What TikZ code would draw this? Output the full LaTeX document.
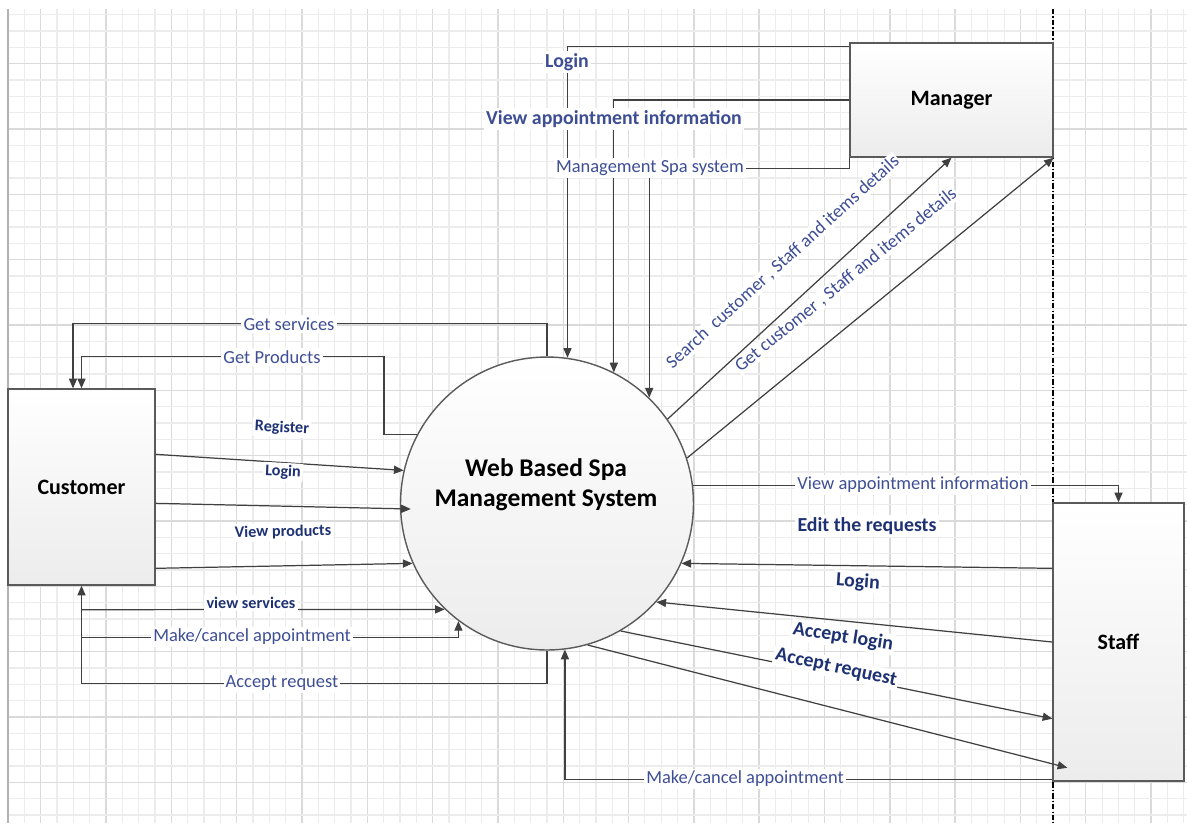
\documentclass[tikz,border=0pt]{standalone}
\usepackage{fontspec}
\setmainfont{Carlito}
\usetikzlibrary{arrows.meta,calc}
\definecolor{mblue}{RGB}{62,78,148}
\definecolor{dblue}{RGB}{30,50,115}
\definecolor{linec}{RGB}{64,64,64}
\definecolor{boxc}{RGB}{90,90,90}
\definecolor{boxbot}{RGB}{236,236,236}
\definecolor{gmin}{RGB}{236,236,236}
\definecolor{gmaj}{RGB}{218,218,218}
\begin{document}
\begin{tikzpicture}[x=0.02cm,y=-0.02cm,
 ent/.style={draw=boxc, line width=0.8pt, top color=white, bottom color=boxbot, font=\bfseries\fontsize{12.5}{15}\selectfont, inner sep=0pt},
 conn/.style={draw=linec, line width=0.7pt, -{Triangle[length=5.5pt,width=4.6pt]}},
 lm/.style={fill=white, inner sep=1.2pt, text=mblue, font=\fontsize{10.5}{12}\selectfont},
 lb/.style={fill=white, inner sep=1.2pt, text=mblue, font=\bfseries\fontsize{11.3}{13}\selectfont},
 ld/.style={fill=white, inner sep=1.2pt, text=dblue, font=\bfseries\fontsize{11.3}{13}\selectfont},
 ls/.style={fill=white, inner sep=1.2pt, text=dblue, font=\bfseries\fontsize{9.2}{11}\selectfont},
 gridmin/.style={draw=gmin, line width=0.7pt},
 gridmaj/.style={draw=gmaj, line width=0.8pt},
]
\useasboundingbox (0,0) rectangle (1187,823);
\fill[white] (0,0) rectangle (1187,823);
% grid
\foreach \i in {0,...,72}{
  \pgfmathsetmacro{\gx}{8+\i*16.33}
  \pgfmathtruncatemacro{\m}{mod(\i,4)}
  \ifnum\m=2 \draw[gridmaj] (\gx,9) -- (\gx,823); \else \draw[gridmin] (\gx,9) -- (\gx,823); \fi
}
\foreach \j in {0,...,49}{
  \pgfmathsetmacro{\gy}{14.7+\j*16.33}
  \pgfmathtruncatemacro{\m}{mod(\j,4)}
  \ifnum\m=3 \draw[gridmaj] (8,\gy) -- (1187,\gy); \else \draw[gridmin] (8,\gy) -- (1187,\gy); \fi
}
\draw[draw=gray!60, line width=0.9pt] (8,9) -- (8,823);
% boundary
\draw[black, line width=0.6pt, dash pattern=on 3pt off 1.2pt on 0.8pt off 1.2pt] (1053,9) -- (1053,823);

% entities
\node[ent, minimum width=4.06cm, minimum height=2.28cm] (mgr) at (951.5,100) {Manager};
\node[ent, minimum width=2.94cm, minimum height=3.92cm] (cust) at (81.5,487) {Customer};
\node[ent, minimum width=2.62cm, minimum height=5.56cm] (staff) at (1118.5,642) {Staff};
\node[circle, draw=boxc, line width=0.8pt, top color=white, bottom color=boxbot, minimum size=5.86cm, inner sep=0pt] (sys) at (547,503.5) {};
\node[font=\bfseries\fontsize{14.5}{17}\selectfont, align=center] (systxt) at (546,485) {Web Based Spa\\Management System};

% manager flows
\draw[conn] ($(mgr.north west)+(0,4)$) -| (sys.82.2);
\draw[conn] (mgr.west) -| (sys.63.2);
\draw[conn] (mgr.south west) -- ++(0,11) -| (sys.46.4);
\draw[conn] (sys.35.2) -- (mgr.south);
\draw[conn] (sys.18.7) -- (mgr.south east);

% customer flows
\draw[conn] (sys.north) -- ++(0,-33) -| ($(cust.north)+(-8.5,0)$);
\draw[conn] (sys.152.6) -| ($(cust.north)+(302.5,-32)$) -| (cust.north);
\draw[conn] ($(cust.north east)+(0,66)$) -- (sys.167.5);
\draw[conn] ($(cust.north east)+(0,115)$) -- ($(sys.west)+(11,5.5)$);
\draw[conn] ($(cust.north east)+(0,180)$) -- (sys.204.7);
\draw[conn] ($(cust.south)+(0,24)$) -- (sys.226.1);
\draw[conn] ($(cust.south)+(0,52)$) -| (sys.233.6);
\draw[conn] (sys.south) -- ++(0,33) -| (cust.south);

% staff flows
\draw[conn] (sys.7.3) -| (staff.north);
\draw[conn] ($(staff.north west)+(0,66)$) -- (sys.336);
\draw[conn] (staff.west) -- (sys.318.1);
\draw[conn] (sys.300) -- ($(staff.south west)+(0,-63)$);
\draw[conn] (sys.286.6) -- ($(staff.south west)+(15,-14)$);
\draw[conn] ($(staff.south west)+(0,-2)$) -| (sys.277.8);

% labels
\node[lb] (l1) at (567,62) {Login};
\node[lb] (l2) at (614,119) {View appointment information};
\node[lm] (l3) at (650,168) {Management Spa system};
\node[lm, inner sep=0.6pt, rotate=42.2] (l4) at (783,262) {Search\ \ customer , Staff and items details};
\node[lm, inner sep=0.6pt, rotate=39.2] (l5) at (846,280) {Get customer , Staff and items details};
\node[lm] (l6) at (289,324) {Get services};
\node[lm] (l7) at (272,357) {Get Products};
\node[ls, rotate=-3] (l8) at (282,428) {Register};
\node[ls, rotate=-3] (l9) at (283,472) {Login};
\node[ls, rotate=1] (l10) at (283,532) {View products};
\node[ls] (l11) at (251,603) {view services};
\node[lm] (l12) at (252,637) {Make/cancel appointment};
\node[lm] (l13) at (282,683) {Accept request};
\node[lm] (l14) at (913,485) {View appointment information};
\node[ld] (l15) at (867,526) {Edit the requests};
\node[ld, rotate=-4] (l16) at (858,582) {Login};
\node[ld, rotate=-9] (l17) at (843,637) {Accept login};
\node[ld, rotate=-12] (l18) at (836,668) {Accept request};
\node[lm] (l19) at (745,779) {Make/cancel appointment};
\end{tikzpicture}
\end{document}
